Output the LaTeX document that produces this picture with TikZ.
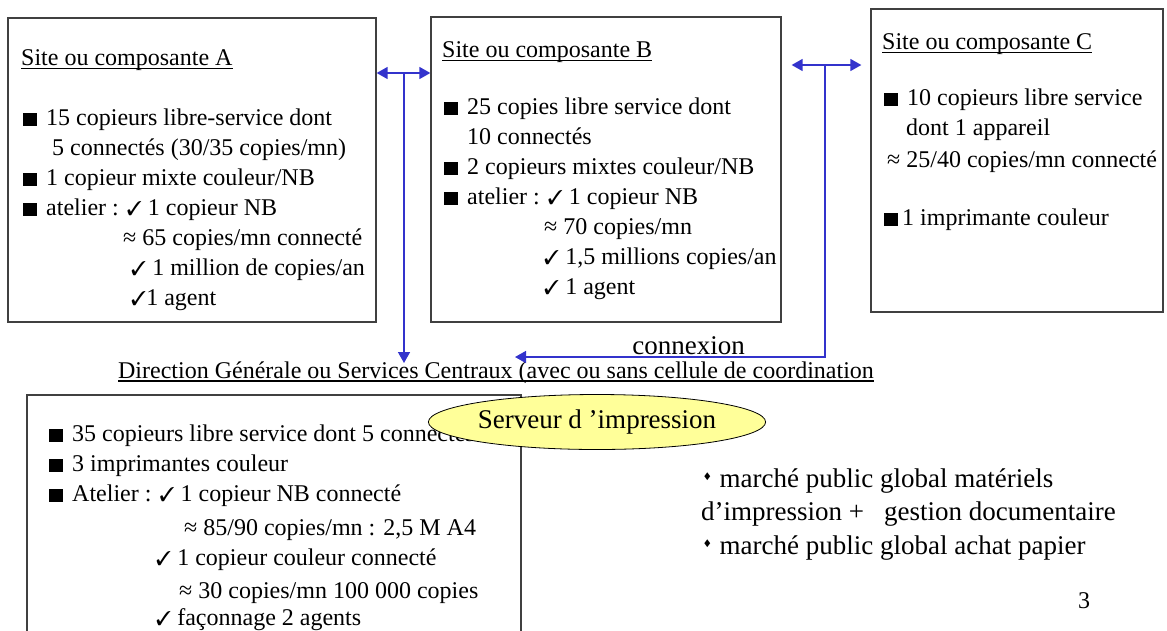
\documentclass[tikz,border=0pt]{standalone}
\usepackage{fontspec}
\setmainfont{Liberation Serif}
\usepackage{pifont}
\usetikzlibrary{arrows.meta,shapes.geometric,positioning}

\definecolor{bleulien}{RGB}{51,51,204}
\definecolor{jaunepale}{RGB}{255,255,153}
\newcommand{\carre}[1][9pt]{\hspace*{2pt}\rule{14pt}{13pt}\hspace{#1}}
\newcommand{\coche}{{\fontsize{20}{20}\selectfont\ding{51}}}
\newcommand{\losange}{\hspace*{3pt}\raisebox{0.25em}{\scalebox{0.75}[1]{\fontsize{11}{11}\selectfont\ding{117}}}\hspace{9pt}}
\newcommand{\souligne}[1]{\leavevmode\setbox0=\hbox{#1}\rlap{\rule[-3.5pt]{\wd0}{1.3pt}}\box0}

\begin{document}
\begin{tikzpicture}[x=1pt,y=-1pt,>={Triangle[length=11pt,width=12pt]},
  boite/.style={draw=black!75,line width=1.3pt},
  liste/.style={anchor=north west,align=left,inner sep=0pt,font=\fontsize{24}{30}\selectfont},
  liaison/.style={draw=bleulien,fill=none,line width=1.5pt}]
  \clip (0,0) rectangle (1167,630);

  \node[boite,minimum width=368,minimum height=304] (siteA) at (192,170) {};
  \node[boite,minimum width=350,minimum height=305] (siteB) at (606,169.5) {};
  \node[boite,minimum width=292,minimum height=303] (siteC) at (1017,160.5) {};
  \node[boite,minimum width=494,minimum height=260] (dirBox) at (274,525) {};

  \node[liste] (texteA) at (21,49.5) {\souligne{Site ou composante A}\\[30pt]
    \carre 15 copieurs libre-service dont\\
    \hspace*{31pt}5 connectés (30/35 copies/mn)\\
    \carre 1 copieur mixte couleur/NB\\
    \carre atelier : \coche\ 1 copieur NB\\
    \hspace*{102pt}≈ 65 copies/mn connecté\\
    \hspace*{110pt}\coche\ 1 million de copies/an\\
    \hspace*{110pt}\coche1 agent};
  \node[liste] (texteB) at (442,41.5) {\souligne{Site ou composante B}\\[27pt]
    \carre 25 copies libre service dont\\
    \hspace*{25pt}10 connectés\\
    \carre 2 copieurs mixtes couleur/NB\\
    \carre atelier : \coche\ 1 copieur NB\\
    \hspace*{102pt}≈ 70 copies/mn\\
    \hspace*{102pt}\coche\ 1,5 millions copies/an\\
    \hspace*{102pt}\coche\ 1 agent};
  \node[liste] (texteC) at (882,33.5) {\souligne{Site ou composante C}\\[26pt]
    \carre 10 copieurs libre service\\
    \hspace*{24pt}dont 1 appareil\\[2pt]
    \hspace*{5pt}≈ 25/40 copies/mn connecté\\[28pt]
    \carre[4pt]1 imprimante couleur};
  \node[liste] (texteD) at (47,425) {\carre 35 copieurs libre service dont 5 connectés\\
    \carre 3 imprimantes couleur\\
    \carre Atelier : \coche\ 1 copieur NB connecté\\[4pt]
    \hspace*{137pt}≈ 85/90 copies/mn : 2,5 M A4\\
    \hspace*{109pt}\coche\ 1 copieur couleur connecté\\[3pt]
    \hspace*{132pt}≈ 30 copies/mn 100 000 copies\\[-3pt]
    \hspace*{109pt}\coche\ façonnage 2 agents};

  \node[font=\fontsize{24}{30}\selectfont] (dg) at (496,372.4)
    {\souligne{Direction Générale ou Services Centraux (avec ou sans cellule de coordination}};

  \coordinate (jA) at (404,73);
  \coordinate (fA) at (404,363);
  \coordinate (jC) at (825,65);
  \coordinate (cx) at (515,357);
  \draw[liaison,<->] (siteA.east |- jA) -- (siteB.west |- jA);
  \draw[liaison,->] (jA) -- (fA);
  \draw[liaison,<->,shorten <=10pt,shorten >=9pt] (siteB.east |- jC) -- (siteC.west |- jC);
  \draw[liaison,->] (jC) |- node[pos=0.72,above,inner sep=1pt,text=black,
    font=\fontsize{27}{32}\selectfont] (cnx) {connexion} (cx);

  \node[ellipse,draw=black,line width=0.8pt,fill=jaunepale,minimum width=316,
    minimum height=55,inner sep=0pt,font=\fontsize{27}{32}\selectfont] (serveur)
    at (597,422) {Serveur d ’impression};

  \node[anchor=north west,align=left,inner sep=0pt,font=\fontsize{27}{33.5}\selectfont]
    (marches) at (701,468.5) {\losange marché public global matériels\\
    d’impression +\hspace{20pt}gestion documentaire\\
    \losange marché public global achat papier};
  \node[font=\fontsize{24}{30}\selectfont] (page) at (1084,601) {3};
\end{tikzpicture}
\end{document}
